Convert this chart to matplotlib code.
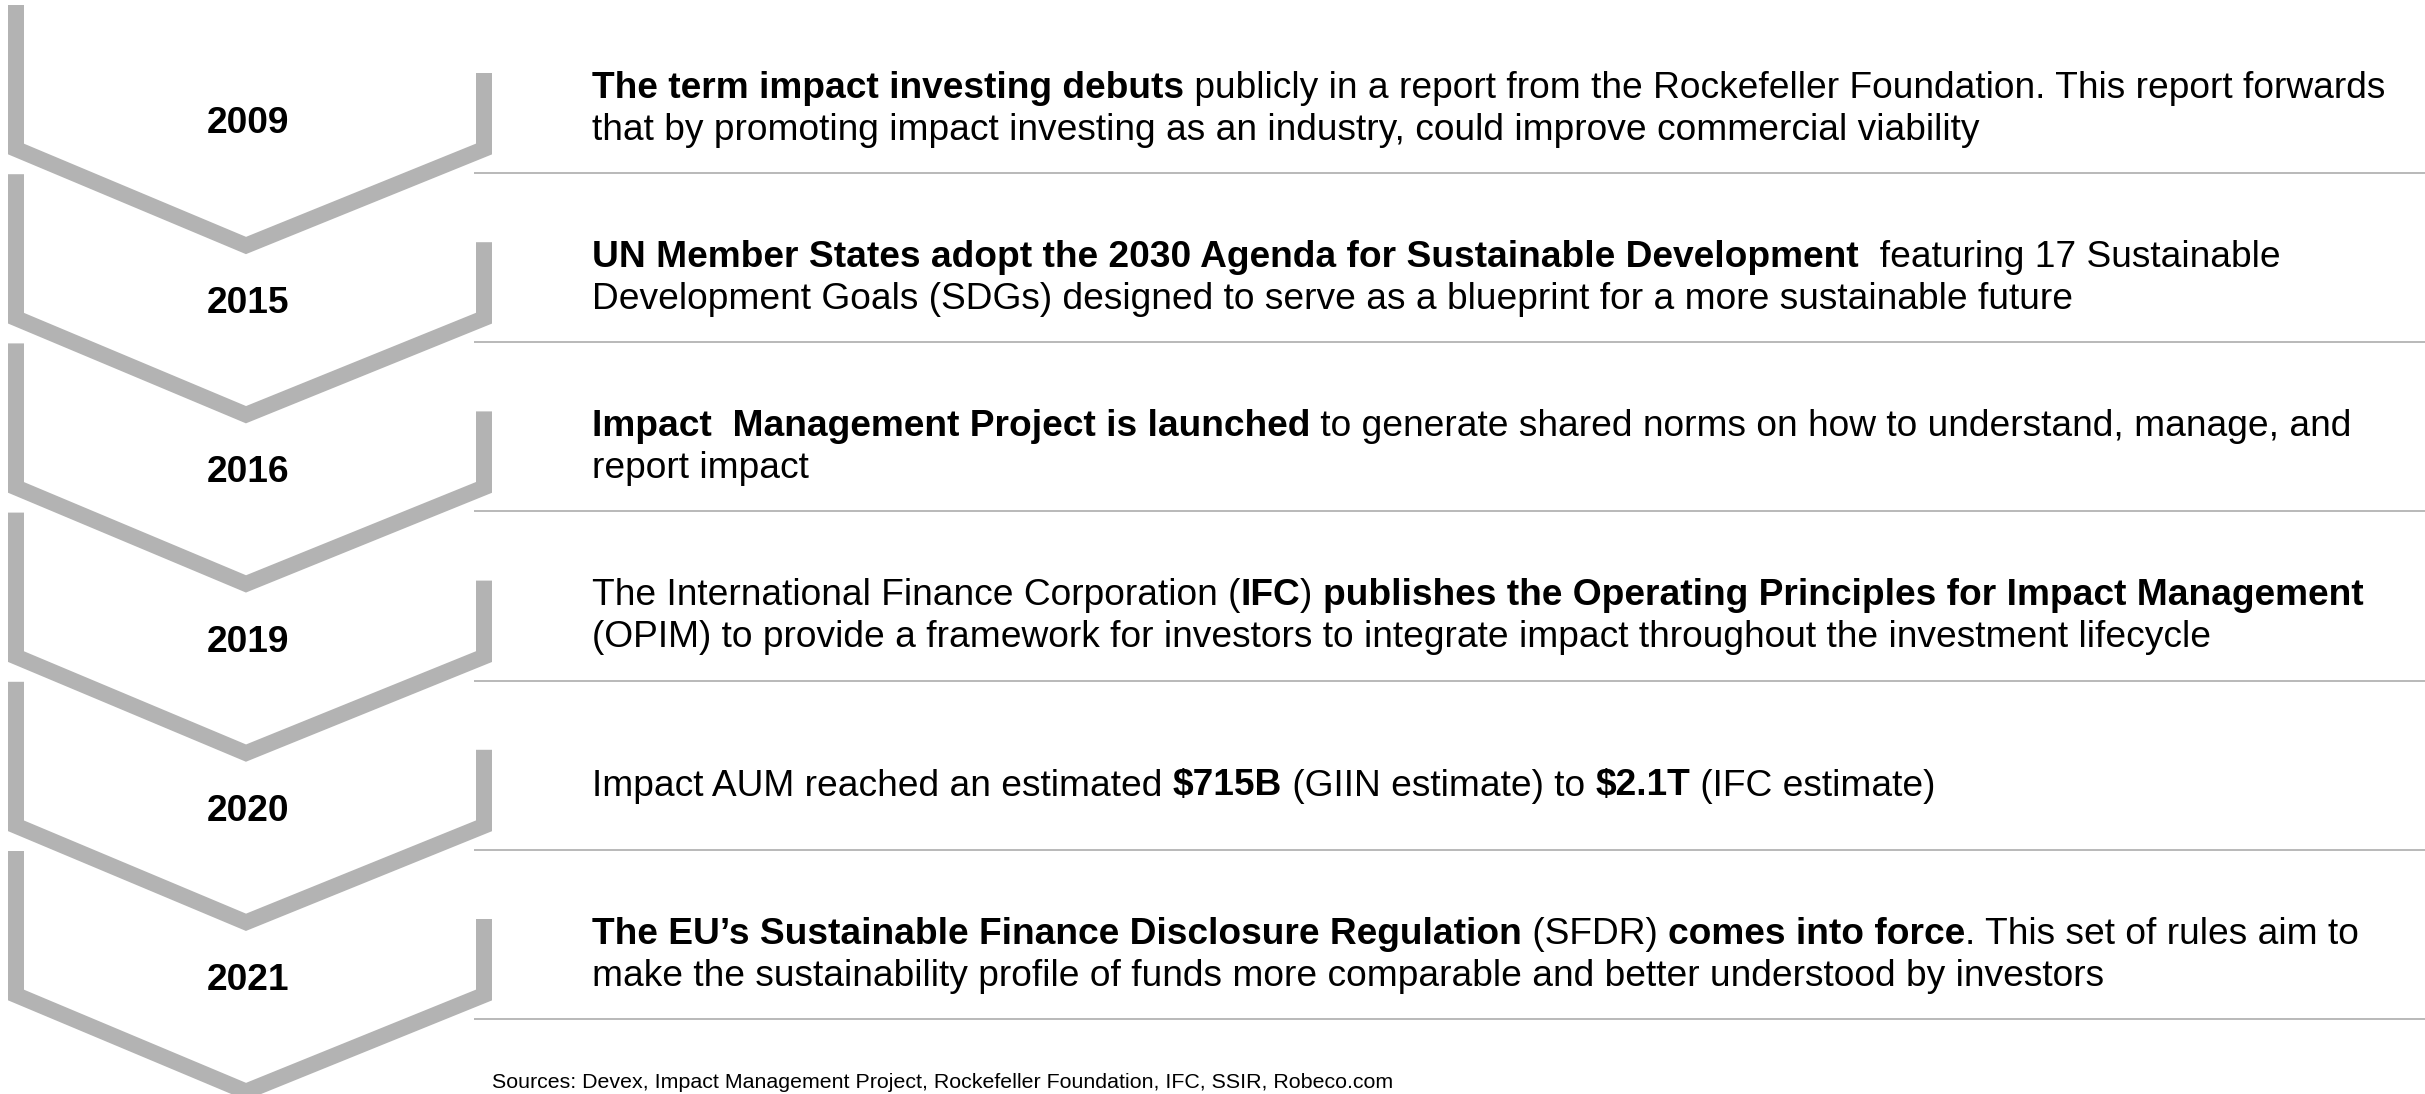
import matplotlib
matplotlib.use("Agg")
import matplotlib.pyplot as plt
from matplotlib.font_manager import FontProperties
from matplotlib.lines import Line2D

plt.rcParams['text.parse_math'] = False

# ---------------- data ----------------
years = ["2009", "2015", "2016", "2019", "2020", "2021"]

# each event: list of lines, each line a list of (text, is_bold) segments
event_2009 = [
    [("The term impact investing debuts", True),
     (" publicly in a report from the Rockefeller Foundation. This report forwards", False)],
    [("that by promoting impact investing as an industry, could improve commercial viability", False)],
]
event_2015 = [
    [("UN Member States adopt the 2030 Agenda for Sustainable Development", True),
     ("  featuring 17 Sustainable", False)],
    [("Development Goals (SDGs) designed to serve as a blueprint for a more sustainable future", False)],
]
event_2016 = [
    [("Impact  Management Project is launched", True),
     (" to generate shared norms on how to understand, manage, and", False)],
    [("report impact", False)],
]
event_2019 = [
    [("The International Finance Corporation (", False), ("IFC", True), (") ", False),
     ("publishes the Operating Principles for Impact Management", True)],
    [("(OPIM) to provide a framework for investors to integrate impact throughout the investment lifecycle", False)],
]
event_2020 = [
    [("Impact AUM reached an estimated ", False), ("$715B", True), (" (GIIN estimate) to ", False),
     ("$2.1T", True), (" (IFC estimate)", False)],
]
event_2021 = [
    [("The EU\u2019s Sustainable Finance Disclosure Regulation", True), (" (SFDR) ", False),
     ("comes into force", True), (". This set of rules aim to", False)],
    [("make the sustainability profile of funds more comparable and better understood by investors", False)],
]
events = [event_2009, event_2015, event_2016, event_2019, event_2020, event_2021]

sources = "Sources: Devex, Impact Management Project, Rockefeller Foundation, IFC, SSIR, Robeco.com"

# ---------------- layout (pixels) ----------------
W, H = 2425, 1094
DPI = 100
STEP = 169.2          # vertical pitch of the timeline rows
TOP = 5.0             # top of first chevron
GRAY = "#b3b3b3"
LINE_GRAY = "#bababa"
FAMILY = ["Liberation Sans", "DejaVu Sans"]
BODY_PT = 26.7
YEAR_PT = 26.7
SRC_PT = 15.4
TEXT_X = 592
LINE_GAP = 42
YEAR_BASE = 139
YEAR_NUDGE = [-11, 0, 0, 0, 0, 0]   # small per-row vertical tweaks of the year labels

fig = plt.figure(figsize=(W / DPI, H / DPI), dpi=DPI)
ax = fig.add_axes([0, 0, 1, 1])
ax.set_xlim(0, W)
ax.set_ylim(H, 0)
ax.axis("off")

renderer = fig.canvas.get_renderer()
fp_reg = FontProperties(family=FAMILY, size=BODY_PT)
fp_bold = FontProperties(family=FAMILY, size=BODY_PT, weight="bold")


def advance(s, fp):
    w1, _, _ = renderer.get_text_width_height_descent("|" + s + "|", fp, ismath=False)
    w0, _, _ = renderer.get_text_width_height_descent("||", fp, ismath=False)
    return w1 - w0


for k, (yr, ev) in enumerate(zip(years, events)):
    y0 = TOP + STEP * k
    # chevron outline
    xs = [16, 16, 246, 484, 484]
    ys = [y0, y0 + 144, y0 + 240.5, y0 + 144, y0 + 68]
    ax.add_line(Line2D(xs, ys, color=GRAY, lw=16 * 72 / DPI,
                       solid_joinstyle="miter", solid_capstyle="butt"))
    # separator
    ax.plot([474, W], [y0 + 168, y0 + 168], color=LINE_GRAY, lw=2 * 72 / DPI,
            solid_capstyle="butt")
    # year
    ax.text(248, y0 + YEAR_BASE + YEAR_NUDGE[k], yr, ha="center", va="baseline",
            fontsize=YEAR_PT, fontweight="bold", family=FAMILY, color="black")
    # description
    n = len(ev)
    base = y0 + 92.7 if n == 2 else y0 + 92.7 + LINE_GAP / 2
    for li, line in enumerate(ev):
        x = TEXT_X
        yb = base + li * LINE_GAP
        for seg, bold in line:
            fp = fp_bold if bold else fp_reg
            ax.text(x, yb, seg, ha="left", va="baseline", fontproperties=fp, color="black")
            x += advance(seg, fp)

ax.text(492, 1088, sources, ha="left", va="baseline", fontsize=SRC_PT, family=FAMILY,
        color="black")

fig.savefig("out.png", dpi=DPI)
